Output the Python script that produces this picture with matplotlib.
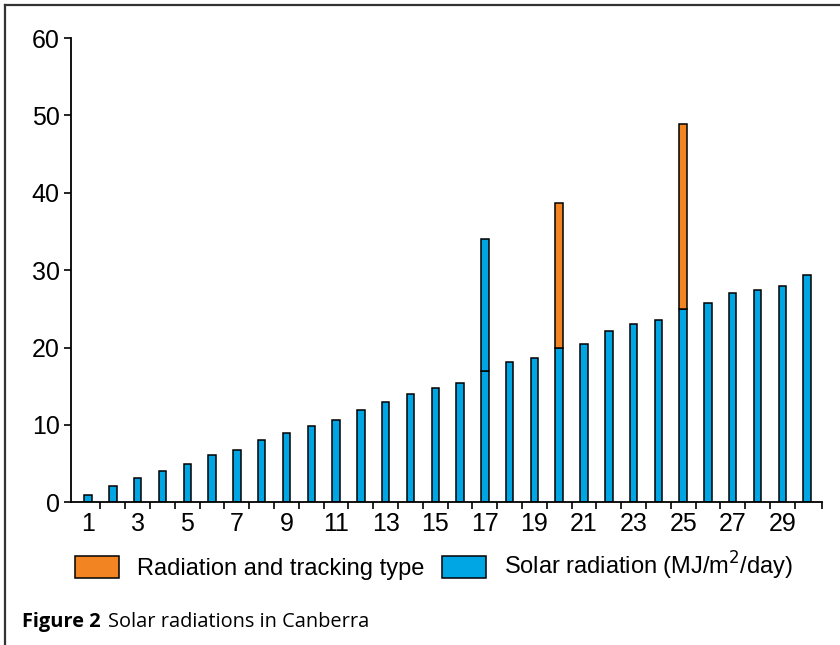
import numpy as np
import matplotlib
matplotlib.use('Agg')
import matplotlib.pyplot as plt
from matplotlib.lines import Line2D
from matplotlib.patches import Patch

# Data
days = np.arange(1, 31)
solar = [1.0, 2.1, 3.1, 4.1, 5.0, 6.1, 6.8, 8.0, 9.0, 9.9,
         10.6, 11.9, 13.0, 14.0, 14.8, 15.4, 17.0, 18.1, 18.7, 20.0,
         20.5, 22.1, 23.0, 23.5, 25.0, 25.7, 27.0, 27.5, 27.9, 29.4]
tracking_days = [17, 20, 25]
tracking = [17.0, 18.7, 23.9]
xlabels = [str(d) for d in range(1, 30, 2)]

blue = '#00a6e4'
orange = '#f28522'
tick_font = ['Liberation Sans', 'DejaVu Sans']
leg_font = ['Liberation Sans', 'DejaVu Sans']

fig = plt.figure(figsize=(8.4, 6.45), dpi=100)
ax = fig.add_axes([0.0845, 0.2212, 0.8941, 0.7198])

w = 0.3
ax.bar(days, solar, width=w, color=blue, edgecolor='black', linewidth=1.1, zorder=2)
base = [solar[d - 1] for d in tracking_days]
# day 17 top segment is drawn in blue in the original
tcols = [blue if d == 17 else orange for d in tracking_days]
ax.bar(tracking_days, tracking, bottom=base, width=w, color=tcols,
       edgecolor='black', linewidth=1.1, zorder=2)

ax.set_xlim(0.31, 30.6)
ax.set_ylim(0, 60)
ax.set_yticks(range(0, 61, 10))
ax.set_xticks(range(1, 30, 2))
ax.set_xticklabels(xlabels)
ax.set_xticks(list(np.arange(1.5, 30, 1.0)) + [30.6], minor=True)

for s in ['top', 'right']:
    ax.spines[s].set_visible(False)
for s in ['left', 'bottom']:
    ax.spines[s].set_linewidth(1.3)
ax.tick_params(axis='y', length=5, width=1.2, pad=3, labelsize=18)
ax.tick_params(axis='x', which='major', length=0, pad=7, labelsize=18)
ax.tick_params(axis='x', which='minor', length=5, width=1.2)
for lab in ax.get_xticklabels() + ax.get_yticklabels():
    lab.set_family(tick_font)

handles = [Patch(facecolor=orange, edgecolor='black', linewidth=1.1),
           Patch(facecolor=blue, edgecolor='black', linewidth=1.1)]
names = ['Radiation and tracking type', 'Solar radiation (MJ/m$^{2}$/day)']
fig.legend(handles, names, loc='upper left', bbox_to_anchor=(0.089, 0.147),
           ncol=2, frameon=False, borderpad=0, borderaxespad=0,
           handlelength=1.86, handleheight=1.06,
           handletextpad=0.76, columnspacing=0.76,
           prop={'family': leg_font, 'size': 17})

fig.text(0.026, 0.028, 'Figure 2', family=['Open Sans', 'DejaVu Sans'],
         fontweight='bold', fontsize=14.4, va='baseline')
fig.text(0.128, 0.028, 'Solar radiations in Canberra',
         family=['Open Sans', 'DejaVu Sans'], fontsize=14.4, va='baseline')

# frame lines at top and left of the figure
fig.add_artist(Line2D([0.006, 0.006], [0, 0.992], color='#333333', lw=1.6))
fig.add_artist(Line2D([0.006, 1.0], [0.992, 0.992], color='#333333', lw=1.6))

fig.savefig('out.png', dpi=100)
